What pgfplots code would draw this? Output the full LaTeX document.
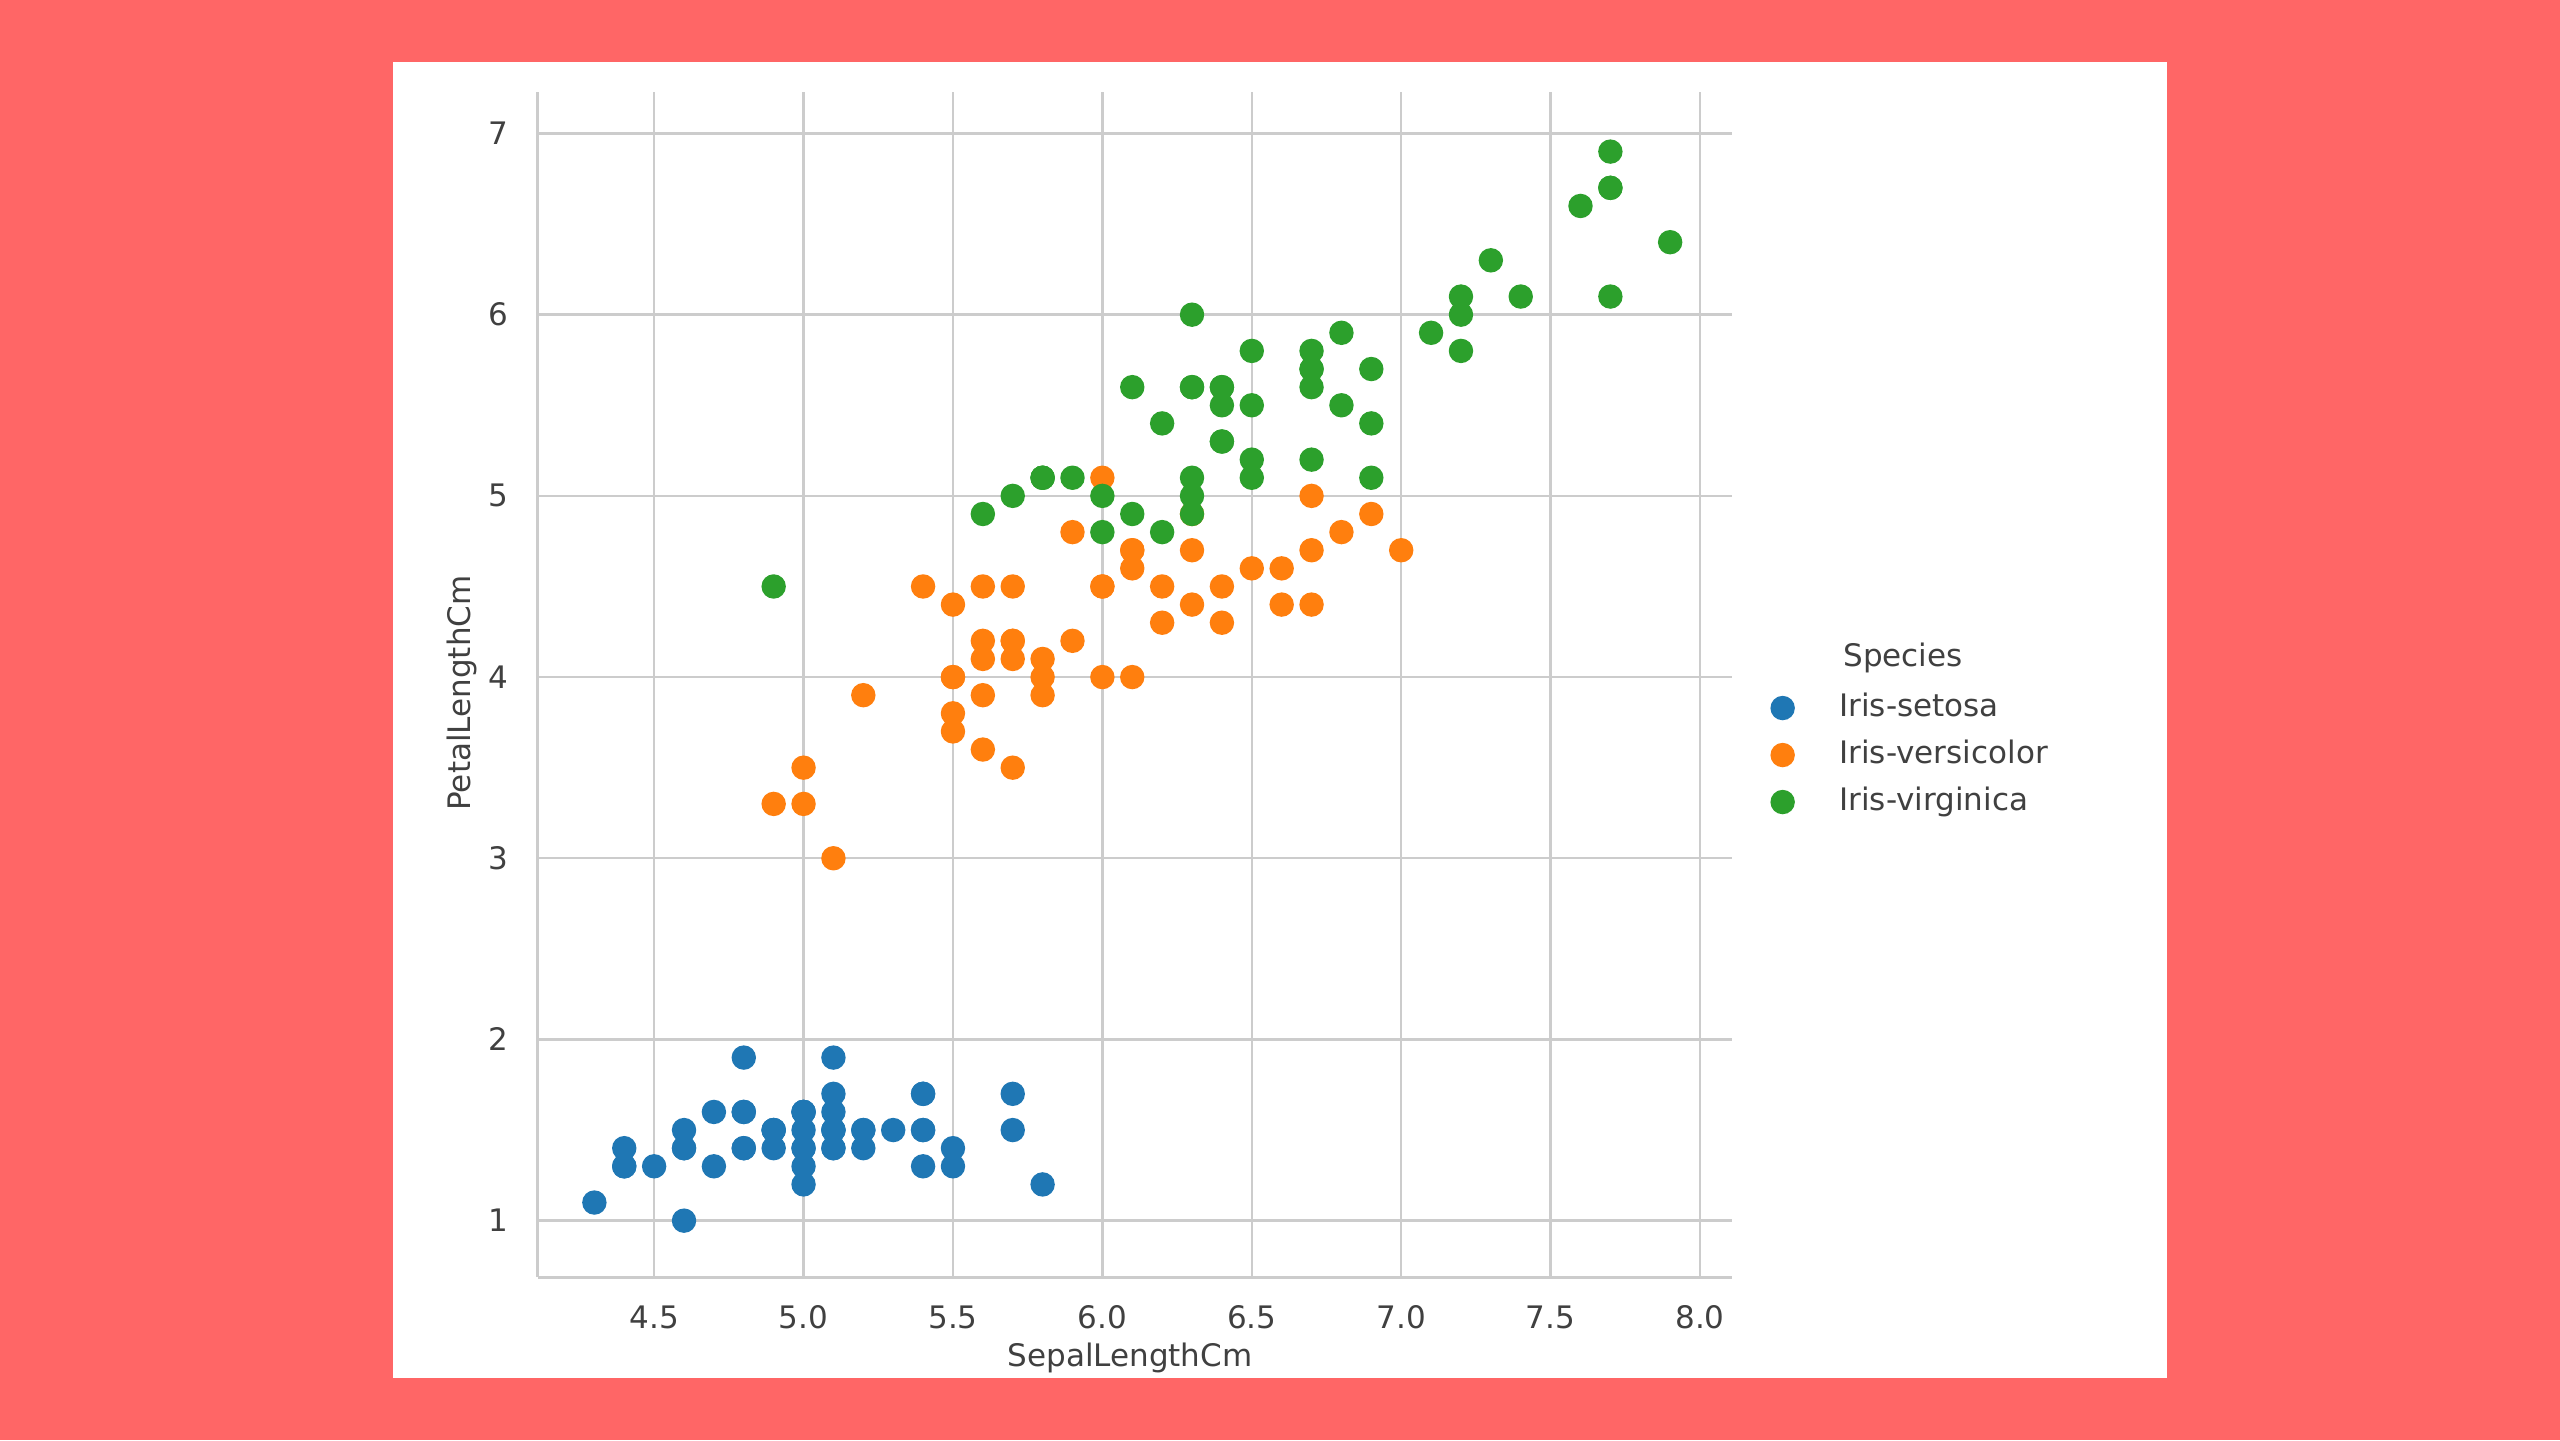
\documentclass[border=0pt]{standalone}
\usepackage{fontspec}
\setmainfont{DejaVu Sans}
\usepackage{pgfplots}
\usepackage{pgfplotstable}
\pgfplotsset{compat=1.18}

\definecolor{bgred}{HTML}{FF6666}
\definecolor{tabblue}{HTML}{1F77B4}
\definecolor{taborange}{HTML}{FF7F0E}
\definecolor{tabgreen}{HTML}{2CA02C}
\definecolor{gridgray}{HTML}{CCCCCC}
\definecolor{textgray}{HTML}{404040}
\newcommand{\sbfont}{\fontsize{7.75}{9.3}\selectfont}

% SepalLengthCm  PetalLengthCm
\pgfplotstableread{
x y
5.1 1.4
4.9 1.4
4.7 1.3
4.6 1.5
5.0 1.4
5.4 1.7
4.6 1.4
5.0 1.5
4.4 1.4
4.9 1.5
5.4 1.5
4.8 1.6
4.8 1.4
4.3 1.1
5.8 1.2
5.7 1.5
5.4 1.3
5.1 1.4
5.7 1.7
5.1 1.5
5.4 1.7
5.1 1.5
4.6 1.0
5.1 1.7
4.8 1.9
5.0 1.6
5.0 1.6
5.2 1.5
5.2 1.4
4.7 1.6
4.8 1.6
5.4 1.5
5.2 1.5
5.5 1.4
4.9 1.5
5.0 1.2
5.5 1.3
4.9 1.5
4.4 1.3
5.1 1.5
5.0 1.3
4.5 1.3
4.4 1.3
5.0 1.6
5.1 1.9
4.8 1.4
5.1 1.6
4.6 1.4
5.3 1.5
5.0 1.4
}\setosa

\pgfplotstableread{
x y
7.0 4.7
6.4 4.5
6.9 4.9
5.5 4.0
6.5 4.6
5.7 4.5
6.3 4.7
4.9 3.3
6.6 4.6
5.2 3.9
5.0 3.5
5.9 4.2
6.0 4.0
6.1 4.7
5.6 3.6
6.7 4.4
5.6 4.5
5.8 4.1
6.2 4.5
5.6 3.9
5.9 4.8
6.1 4.0
6.3 4.9
6.1 4.7
6.4 4.3
6.6 4.4
6.8 4.8
6.7 5.0
6.0 4.5
5.7 3.5
5.5 3.8
5.5 3.7
5.8 3.9
6.0 5.1
5.4 4.5
6.0 4.5
6.7 4.7
6.3 4.4
5.6 4.1
5.5 4.0
5.5 4.4
6.1 4.6
5.8 4.0
5.0 3.3
5.6 4.2
5.7 4.2
5.7 4.2
6.2 4.3
5.1 3.0
5.7 4.1
}\versicolor

\pgfplotstableread{
x y
6.3 6.0
5.8 5.1
7.1 5.9
6.3 5.6
6.5 5.8
7.6 6.6
4.9 4.5
7.3 6.3
6.7 5.8
7.2 6.1
6.5 5.1
6.4 5.3
6.8 5.5
5.7 5.0
5.8 5.1
6.4 5.3
6.5 5.5
7.7 6.7
7.7 6.9
6.0 5.0
6.9 5.7
5.6 4.9
7.7 6.7
6.3 4.9
6.7 5.7
7.2 6.0
6.2 4.8
6.1 4.9
6.4 5.6
7.2 5.8
7.4 6.1
7.9 6.4
6.4 5.6
6.3 5.1
6.1 5.6
7.7 6.1
6.3 5.6
6.4 5.5
6.0 4.8
6.9 5.4
6.7 5.6
6.9 5.1
5.8 5.1
6.8 5.9
6.7 5.7
6.7 5.2
6.3 5.0
6.5 5.2
6.2 5.4
5.9 5.1
}\virginica

\begin{document}
\begin{tikzpicture}
\fill[bgred] (0,0) rectangle (640pt,360pt);
\fill[white] (98.25pt,15.5pt) rectangle (541.75pt,344.5pt);
\begin{axis}[
    at={(134.4pt,40.75pt)}, anchor=south west,
    scale only axis,
    width=298.6pt, height=296.3pt,
    xmin=4.11, xmax=8.107,
    ymin=0.689, ymax=7.23,
    clip mode=individual,
    axis x line*=bottom, axis y line*=left,
    axis line style={gridgray, line width=0.75pt, -},
    grid=major,
    major grid style={gridgray, line width=0.6pt},
    major tick length=0pt,
    xtick={4.5,5.0,5.5,6.0,6.5,7.0,7.5,8.0},
    ytick={1,2,3,4,5,6,7},
    /pgf/number format/assume math mode=true,
    ticklabel style={font=\sbfont, text=textgray},
    xticklabel style={/pgf/number format/fixed, /pgf/number format/fixed zerofill,
        /pgf/number format/precision=1, yshift=-3.6pt},
    yticklabel style={xshift=-3.8pt},
    xlabel={SepalLengthCm},
    ylabel={PetalLengthCm},
    label style={font=\sbfont, text=textgray},
    xlabel style={at={(axis description cs:0.496,-0.0683)}, anchor=center},
    ylabel style={at={(axis description cs:-0.0633,0.4927)}, anchor=center},
    legend style={draw=none, fill=none, at={(1.0322,0.4404)}, anchor=west,
        font=\sbfont, text=textgray, row sep=3.75pt, column sep=11.35pt,
        inner sep=0pt, nodes={inner sep=0pt, text height=6pt, text depth=2pt}},
    legend cell align=left,
    legend image code/.code={\draw[#1] plot coordinates {(0pt,0pt)};},
]
\addplot[only marks, mark=*, mark size=2.85pt, color=tabblue] table {\setosa};
\addlegendentry{Iris-setosa}
\addplot[only marks, mark=*, mark size=2.85pt, color=taborange] table {\versicolor};
\addlegendentry{Iris-versicolor}
\addplot[only marks, mark=*, mark size=2.85pt, color=tabgreen] table {\virginica};
\addlegendentry{Iris-virginica}
\node[font=\sbfont, text=textgray, anchor=center] at (axis description cs:1.1432,0.5222) {Species};
\end{axis}
\end{tikzpicture}
\end{document}
